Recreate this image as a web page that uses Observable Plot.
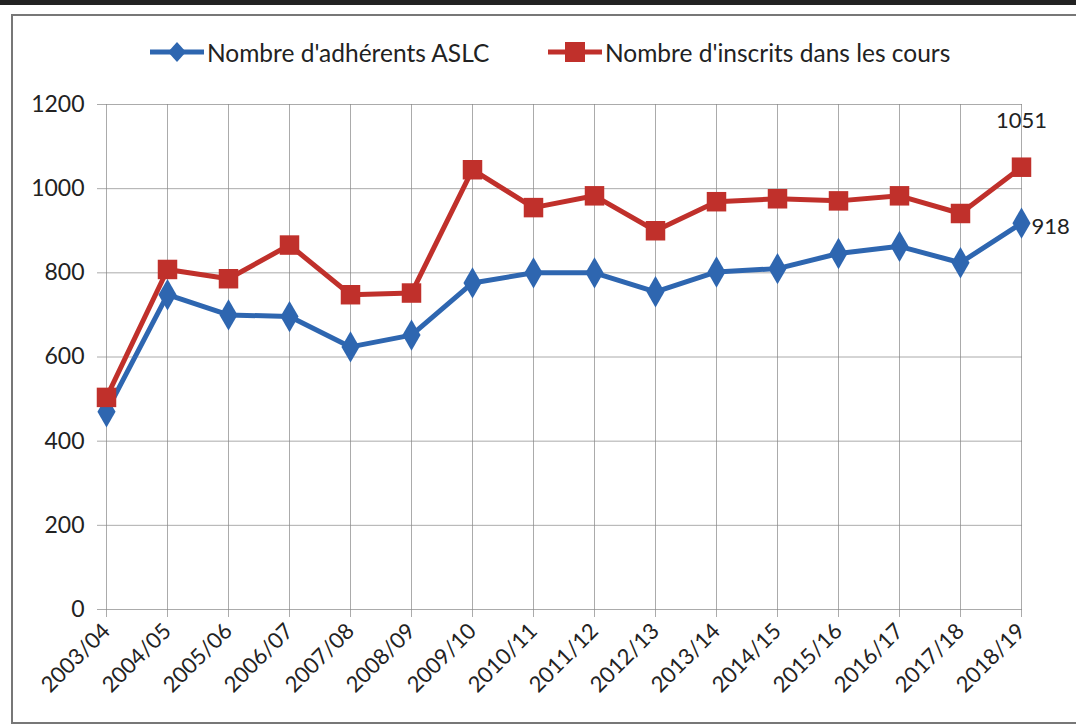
<!DOCTYPE html>
<html>
<head>
<meta charset="utf-8">
<script src="https://cdn.jsdelivr.net/npm/d3@7"></script>
<script src="https://cdn.jsdelivr.net/npm/@observablehq/plot@0.6"></script>
<style>
  html, body { margin: 0; padding: 0; background: #fff; }
  #wrap { position: relative; width: 1076px; height: 728px; overflow: hidden; font-family: Lato, "Open Sans", sans-serif; }
  #topbar { position: absolute; left: 0; top: 0; width: 1076px; height: 5px; background: #222; }
  #frame { position: absolute; left: 11px; top: 14px; width: 1080px; height: 710px; border: 2px solid #777; box-sizing: border-box; }
  #legend { position: absolute; top: 34px; left: 0; width: 1076px; height: 36px; font-size: 24.5px; color: #222; }
  .item { position: absolute; display: flex; align-items: center; }
  .item svg { margin-right: 3px; }
  #chart { position: absolute; left: 0; top: 0; }
</style>
</head>
<body>
<div id="wrap">
  <div id="topbar"></div>
  <div id="frame"></div>
  <div id="chart"></div>
  <div id="legend"></div>
</div>
<script>
const seasons = ["2003/04","2004/05","2005/06","2006/07","2007/08","2008/09","2009/10","2010/11","2011/12","2012/13","2013/14","2014/15","2015/16","2016/17","2017/18","2018/19"];
const adherents = [470, 748, 700, 696, 624, 652, 776, 800, 800, 755, 802, 810, 846, 863, 824, 918];
const inscrits  = [504, 808, 786, 866, 748, 752, 1045, 955, 983, 900, 969, 976, 971, 983, 941, 1051];
const seriesNames = ["Nombre d'adhérents ASLC", "Nombre d'inscrits dans les cours"];
const seriesColors = ["#2E66B0", "#C0302B"];
const yTicks = [0, 200, 400, 600, 800, 1000, 1200];

const rowsA = seasons.map((s, i) => ({season: s, value: adherents[i]}));
const rowsI = seasons.map((s, i) => ({season: s, value: inscrits[i]}));
const lastA = [rowsA[rowsA.length - 1]];
const lastI = [rowsI[rowsI.length - 1]];

const chart = Plot.plot({
  width: 1076,
  height: 728,
  marginLeft: 105,
  marginRight: 54,
  marginTop: 104,
  marginBottom: 119,
  style: {background: "transparent", fontFamily: "Lato, 'Open Sans', sans-serif", color: "#222"},
  x: {type: "point", domain: seasons, padding: 0, label: null},
  y: {domain: [0, 1200], label: null},
  marks: [
    Plot.gridX(seasons, {stroke: "#888", strokeOpacity: 0.7, strokeWidth: 1}),
    Plot.gridY(yTicks, {stroke: "#888", strokeOpacity: 0.7, strokeWidth: 1}),
    Plot.axisY(yTicks, {tickSize: 8, tickPadding: 13, fontSize: 23, tickFormat: d => String(d), stroke: "#888", strokeOpacity: 0.7, label: null}),
    Plot.axisX(seasons, {tickSize: 8, tickPadding: 10, tickRotate: -45, fontSize: 22, stroke: "#888", strokeOpacity: 0.7, label: null}),
    Plot.lineY(rowsA, {x: "season", y: "value", stroke: seriesColors[0], strokeWidth: 5}),
    Plot.lineY(rowsI, {x: "season", y: "value", stroke: seriesColors[1], strokeWidth: 5}),
    Plot.dot(rowsA, {x: "season", y: "value", symbol: "diamond", r: 9.5, fill: seriesColors[0], stroke: "none"}),
    Plot.dot(rowsI, {x: "season", y: "value", symbol: "square", r: 11, fill: seriesColors[1], stroke: "none"}),
    Plot.text(lastI, {x: "season", y: "value", text: d => String(d.value), dy: -46, fontSize: 22, fill: "#222"}),
    Plot.text(lastA, {x: "season", y: "value", text: d => String(d.value), dx: 10, dy: 4, textAnchor: "start", fontSize: 22, fill: "#222"})
  ]
});
document.getElementById("chart").appendChild(chart);

// Legend
const legend = document.getElementById("legend");
const legendPos = [150, 548];
seriesNames.forEach((name, i) => {
  const item = document.createElement("div");
  item.className = "item";
  item.style.left = legendPos[i] + "px";
  const sym = i === 0
    ? `<polygon points="27,8 36,18 27,28 18,18" fill="${seriesColors[i]}"/>`
    : `<rect x="17" y="8" width="20" height="20" fill="${seriesColors[i]}"/>`;
  item.innerHTML = `<svg width="54" height="36"><line x1="0" y1="18" x2="54" y2="18" stroke="${seriesColors[i]}" stroke-width="5"/>${sym}</svg><span>${name}</span>`;
  legend.appendChild(item);
});
</script>
</body>
</html>
